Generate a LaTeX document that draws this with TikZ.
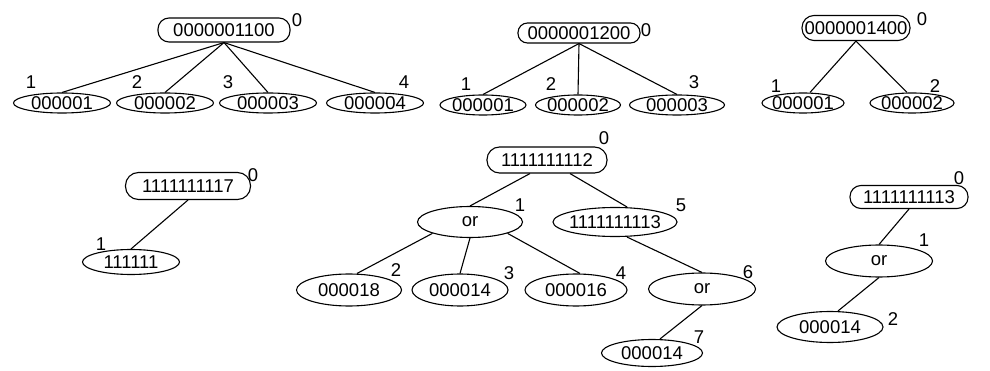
\documentclass[tikz,border=0pt]{standalone}
\usepackage{fontspec}
\setmainfont{Liberation Sans}
\usetikzlibrary{shapes.geometric}

\begin{document}
\begin{tikzpicture}[x=1pt,y=-1pt,
  every node/.style={font=\fontsize{18.5}{20}\selectfont,line width=1.1pt},
  box/.style={draw,rounded corners=11pt,minimum height=24pt,inner sep=0pt},
  ell/.style={draw,ellipse,minimum height=20pt,inner xsep=-2pt,inner ysep=0pt},
  num/.style={inner sep=0pt},
  link/.style={line width=1.1pt}
]
\useasboundingbox (0,0) rectangle (990,371);

% tree 0000001100
\node[box,minimum width=132pt] (r1) at (224,30) {0000001100};
\node[ell,minimum width=97pt] (a11) at (62,103) {000001};
\node[ell,minimum width=97pt] (a12) at (165,103) {000002};
\node[ell,minimum width=97pt] (a13) at (268,103) {000003};
\node[ell,minimum width=97pt] (a14) at (375,103) {000004};
\node[num] (n10) at (297,20) {0};
\node[num] (n11) at (31,82) {1};
\node[num] (n12) at (137,82) {2};
\node[num] (n13) at (228,82) {3};
\node[num] (n14) at (404,82) {4};
\foreach \c in {a11,a12,a13,a14}
  \draw[link] (r1.south) -- (\c.north);

% tree 0000001200
\node[box,minimum width=122pt,minimum height=20pt,rounded corners=9.5pt] (r2) at (579,33) {0000001200};
\node[ell,minimum width=86pt] (a21) at (483,105) {000001};
\node[ell,minimum width=85pt] (a22) at (578,105) {000002};
\node[ell,minimum width=95pt] (a23) at (677,105) {000003};
\node[num] (n20) at (646,30) {0};
\node[num] (n21) at (466,84) {1};
\node[num] (n22) at (551,84) {2};
\node[num] (n23) at (694,82) {3};
\foreach \c in {a21,a22,a23}
  \draw[link] (r2.south) -- (\c.north);

% tree 0000001400
\node[box,minimum width=108pt,minimum height=25pt,rounded corners=12pt] (r3) at (856,28) {0000001400};
\node[ell,minimum width=82pt] (a31) at (803,103) {000001};
\node[ell,minimum width=84pt] (a32) at (912,103) {000002};
\node[num] (n30) at (922,19) {0};
\node[num] (n31) at (776,86) {1};
\node[num] (n32) at (935,86) {2};
\draw[link] (r3.south) -- ([xshift=7pt]a31.north);
\draw[link] (r3.south) -- ([xshift=-5pt]a32.north);

% tree 1111111117
\node[box,minimum width=125pt,minimum height=27pt,rounded corners=13pt] (r4) at (188,186) {1111111117};
\node[ell,minimum width=97pt,minimum height=25pt] (a41) at (131,262) {111111};
\node[num] (n40) at (253,175) {0};
\node[num] (n41) at (101,244) {1};
\draw[link] (r4.south) -- (a41.north);

% tree 1111111112
\node[box,minimum width=120pt,minimum height=26pt,rounded corners=12.5pt] (r5) at (547,160) {1111111112};
\node[ell,minimum width=105pt,minimum height=31pt] (or1) at (470,222) {or};
\node[ell,minimum width=124pt,minimum height=29pt,inner xsep=-6.5pt] (a55) at (615,222) {1111111113};
\node[ell,minimum width=105pt,minimum height=32pt] (a52) at (349,290) {000018};
\node[ell,minimum width=96pt,minimum height=32pt] (a53) at (460,290) {000014};
\node[ell,minimum width=102pt,minimum height=32pt] (a54) at (576,290) {000016};
\node[ell,minimum width=107pt,minimum height=32pt] (or6) at (702,289) {or};
\node[ell,minimum width=101pt,minimum height=27pt] (a57) at (652,353) {000014};
\node[num] (n50) at (604,138) {0};
\node[num] (n51) at (520,205) {1};
\node[num] (n52) at (396,270) {2};
\node[num] (n53) at (509,273) {3};
\node[num] (n54) at (621,273) {4};
\node[num] (n55) at (681,205) {5};
\node[num] (n56) at (748,272) {6};
\node[num] (n57) at (699,337) {7};
\draw[link] ([xshift=-17pt]r5.south) -- (or1.north);
\draw[link] ([xshift=23pt]r5.south) -- ([xshift=12pt]a55.north);
\draw[link] (or1.south west) -- ([xshift=8pt]a52.north);
\draw[link] (or1.south) -- (a53.north);
\draw[link] (or1.south east) -- ([xshift=4pt]a54.north);
\draw[link] ([xshift=12pt]a55.south) -- (or6.north);
\draw[link] (or6.south) -- ([xshift=8pt]a57.north);

% tree 1111111113
\node[box,minimum width=118pt,minimum height=23pt,rounded corners=11pt] (r6) at (909,197) {1111111113};
\node[ell,minimum width=107pt,minimum height=32pt] (or61) at (879,261) {or};
\node[ell,minimum width=106pt,minimum height=31pt] (a62) at (830,327) {000014};
\node[num] (n60) at (959,178) {0};
\node[num] (n61) at (924,240) {1};
\node[num] (n62) at (893,319) {2};
\draw[link] (r6.south) -- (or61.north);
\draw[link] (or61.south) -- ([xshift=8pt]a62.north);
\end{tikzpicture}
\end{document}
